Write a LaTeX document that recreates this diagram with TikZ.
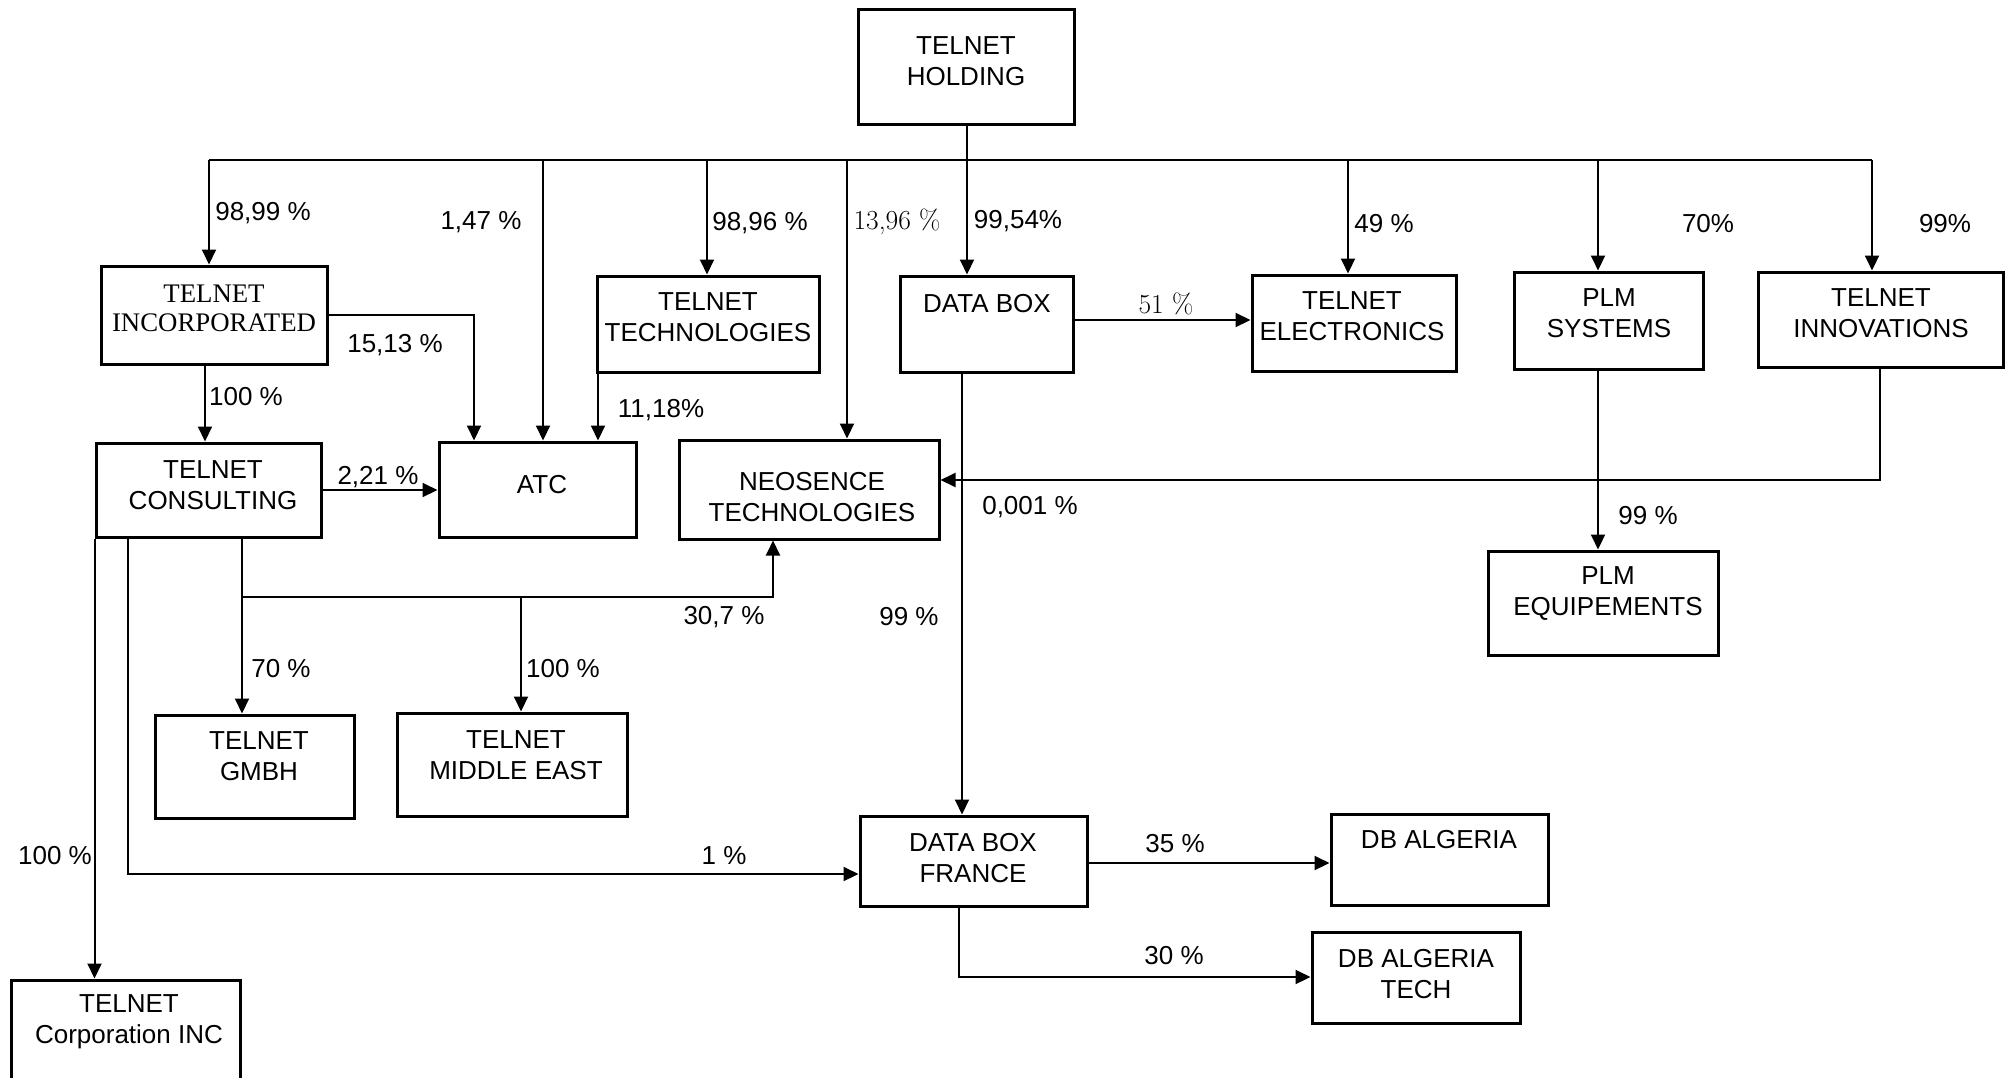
\documentclass[tikz,border=0pt]{standalone}
\usepackage{fontspec}
\setsansfont{Liberation Sans}
\newfontfamily\incfont{Liberation Serif}
\usetikzlibrary{arrows.meta}
\newcommand\orgbox[5]{\node[box, minimum width={#4-#2}, minimum height={#5-#3}] (#1) at ({(#2+#4)/2},{(#3+#5)/2}) {};}
\begin{document}
\begin{tikzpicture}[x=1pt,y=-1pt,
  box/.style={draw, line width=3pt, rectangle, inner sep=0pt},
  txt/.style={font=\sffamily\fontsize{26}{31}\selectfont, align=center, inner sep=0pt},
  lab/.style={font=\sffamily\fontsize{26}{31}\selectfont, inner sep=0pt},
  lmlab/.style={font=\rmfamily\fontsize{27.5}{31}\selectfont, inner sep=0pt},
  inctxt/.style={font=\incfont\fontsize{26.8}{29}\selectfont, align=center, inner sep=0pt},
  arr/.style={line width=2pt, -{Triangle[length=15pt,width=14pt]}},
  con/.style={line width=2pt},
  bus/.style={line width=2.6pt}]
\fill[white] (0,0) rectangle (2009,1077);
\useasboundingbox (0,0) rectangle (2009,1077);
% boxes
\orgbox{hold}{858}{9}{1074}{124}
\orgbox{inc}{101}{266}{327}{364}
\orgbox{tech}{597}{276}{819}{372}
\orgbox{dbox}{900}{276}{1073}{372}
\orgbox{elec}{1252}{275}{1456}{371}
\orgbox{plms}{1514}{272}{1703}{369}
\orgbox{innov}{1758}{272}{2003}{367}
\orgbox{cons}{96}{443}{321}{537}
\orgbox{atc}{439}{442}{636}{537}
\orgbox{neo}{679}{440}{939}{539}
\orgbox{plme}{1488}{551}{1718}{655}
\orgbox{gmbh}{155}{715}{354}{818}
\orgbox{me}{397}{713}{627}{816}
\orgbox{dbf}{860}{816}{1087}{906}
\orgbox{dba}{1331}{814}{1548}{905}
\orgbox{dbat}{1312}{932}{1520}{1023}
\orgbox{corp}{11}{980}{240}{1095}
% box texts
\node[txt] (holdT) at (966,61.5) {TELNET\\HOLDING};
\node[inctxt] (incT) at (214,308.5) {TELNET\\INCORPORATED};
\node[txt] (techT) at (708,317.5) {TELNET\\TECHNOLOGIES};
\node[txt] (dboxT) at (987,304) {DATA BOX};
\node[txt] (elecT) at (1352,316.5) {TELNET\\ELECTRONICS};
\node[txt] (plmsT) at (1609,313.5) {PLM\\SYSTEMS};
\node[txt] (innovT) at (1881,313.5) {TELNET\\INNOVATIONS};
\node[txt] (consT) at (213,485.5) {TELNET\\CONSULTING};
\node[txt] (atcT) at (542,485) {ATC};
\node[txt] (neoT) at (812,497) {NEOSENCE\\TECHNOLOGIES};
\node[txt] (plmeT) at (1608,593.5) {PLM\\EQUIPEMENTS};
\node[txt] (gmbhT) at (259,756.5) {TELNET\\GMBH};
\node[txt] (meT) at (516,755) {TELNET\\MIDDLE EAST};
\node[txt] (dbfT) at (973,858.5) {DATA BOX\\FRANCE};
\node[txt] (dbaT) at (1439,840) {DB ALGERIA};
\node[txt] (dbatT) at (1416,974.5) {DB ALGERIA\\TECH};
\node[txt] (corpT) at (129,1022) {TELNET\\Corporation INC};
% junction coordinates
\coordinate (busL) at (209,160);
\coordinate (busR) at (1872,160);
\coordinate (bA) at (543,160);
\coordinate (bT) at (707,160);
\coordinate (bN) at (847,160);
\coordinate (bE) at (1348,160);
\coordinate (bP) at (1598,160);
\coordinate (xD) at (967,160);
\coordinate (iA) at (474,315);
\coordinate (xIC) at (205,0);
\coordinate (xTA) at (598,0);
\coordinate (nj) at (1880,480);
\coordinate (xPM) at (1598,0);
\coordinate (xDF) at (962,0);
\coordinate (k) at (128,874);
\coordinate (g) at (242,597);
\coordinate (n7) at (773,597);
\coordinate (m) at (521,597);
\coordinate (t) at (959,977);
% connectors
\draw[con] (hold.south -| xD) -- (xD);
\draw[bus] (busL) -- (busR);
\draw[arr] (xD) -- (xD |- dbox.north);
\draw[arr] (busL) -- (busL |- inc.north);
\draw[arr] (bA) -- (bA |- atc.north);
\draw[arr] (bT) -- (bT |- tech.north);
\draw[arr] (bN) -- (bN |- neo.north);
\draw[arr] (bE) -- (bE |- elec.north);
\draw[arr] (bP) -- (bP |- plms.north);
\draw[arr] (busR) -- (busR |- innov.north);
\draw[arr] (inc.east |- iA) -- (iA) -- (iA |- atc.north);
\draw[arr] (inc.south -| xIC) -- (cons.north -| xIC);
\draw[arr] (tech.south -| xTA) -- (atc.north -| xTA);
\draw[arr] (cons.east) -- (cons.east -| atc.west);
\draw[arr] (dbox.east |- 0,320) -- (elec.west |- 0,320);
\draw[arr] (innov.south -| nj) -- (nj) -- (nj -| neo.east);
\draw[arr] (plms.south -| xPM) -- (plme.north -| xPM);
\draw[arr] (dbox.south -| xDF) -- (dbf.north -| xDF);
\draw[arr] (cons.south west) -- (cons.south west |- corp.north);
\draw[arr] (cons.south -| k) -- (k) -- (k -| dbf.west);
\draw[arr] (cons.south -| g) -- (gmbh.north -| g);
\draw[arr] (g) -- (n7) -- (n7 |- neo.south);
\draw[arr] (m) -- (m |- me.north);
\draw[arr] (dbf.east |- 0,863) -- (dba.west |- 0,863);
\draw[arr] (dbf.south -| t) -- (t) -- (t -| dbat.west);
% labels
\node[lab] (l1) at (263,213) {98,99 \%};
\node[lab] (l2) at (481,222) {1,47 \%};
\node[lab] (l3) at (760,223) {98,96 \%};
\node[lmlab] (l4) at (897,222) {13,96 \%};
\node[lab] (l5) at (1018,221) {99,54\%};
\node[lab] (l6) at (1384,224) {49 \%};
\node[lab] (l7) at (1708,224) {70\%};
\node[lab] (l8) at (1945,224) {99\%};
\node[lab] (l9) at (395,345) {15,13 \%};
\node[lab] (l10) at (246,397) {100 \%};
\node[lab] (l11) at (661,410) {11,18\%};
\node[lmlab] (l12) at (1166,304) {51 \%};
\node[lab] (l13) at (378,477) {2,21 \%};
\node[lab] (l14) at (1030,507) {0,001 \%};
\node[lab] (l15) at (1648,516) {99 \%};
\node[lab] (l16) at (724,617) {30,7 \%};
\node[lab] (l17) at (909,617) {99 \%};
\node[lab] (l18) at (281,669) {70 \%};
\node[lab] (l19) at (563,669) {100 \%};
\node[lab] (l20) at (55,856) {100 \%};
\node[lab] (l21) at (724,856) {1 \%};
\node[lab] (l22) at (1175,844) {35 \%};
\node[lab] (l23) at (1174,956) {30 \%};
\end{tikzpicture}
\end{document}
